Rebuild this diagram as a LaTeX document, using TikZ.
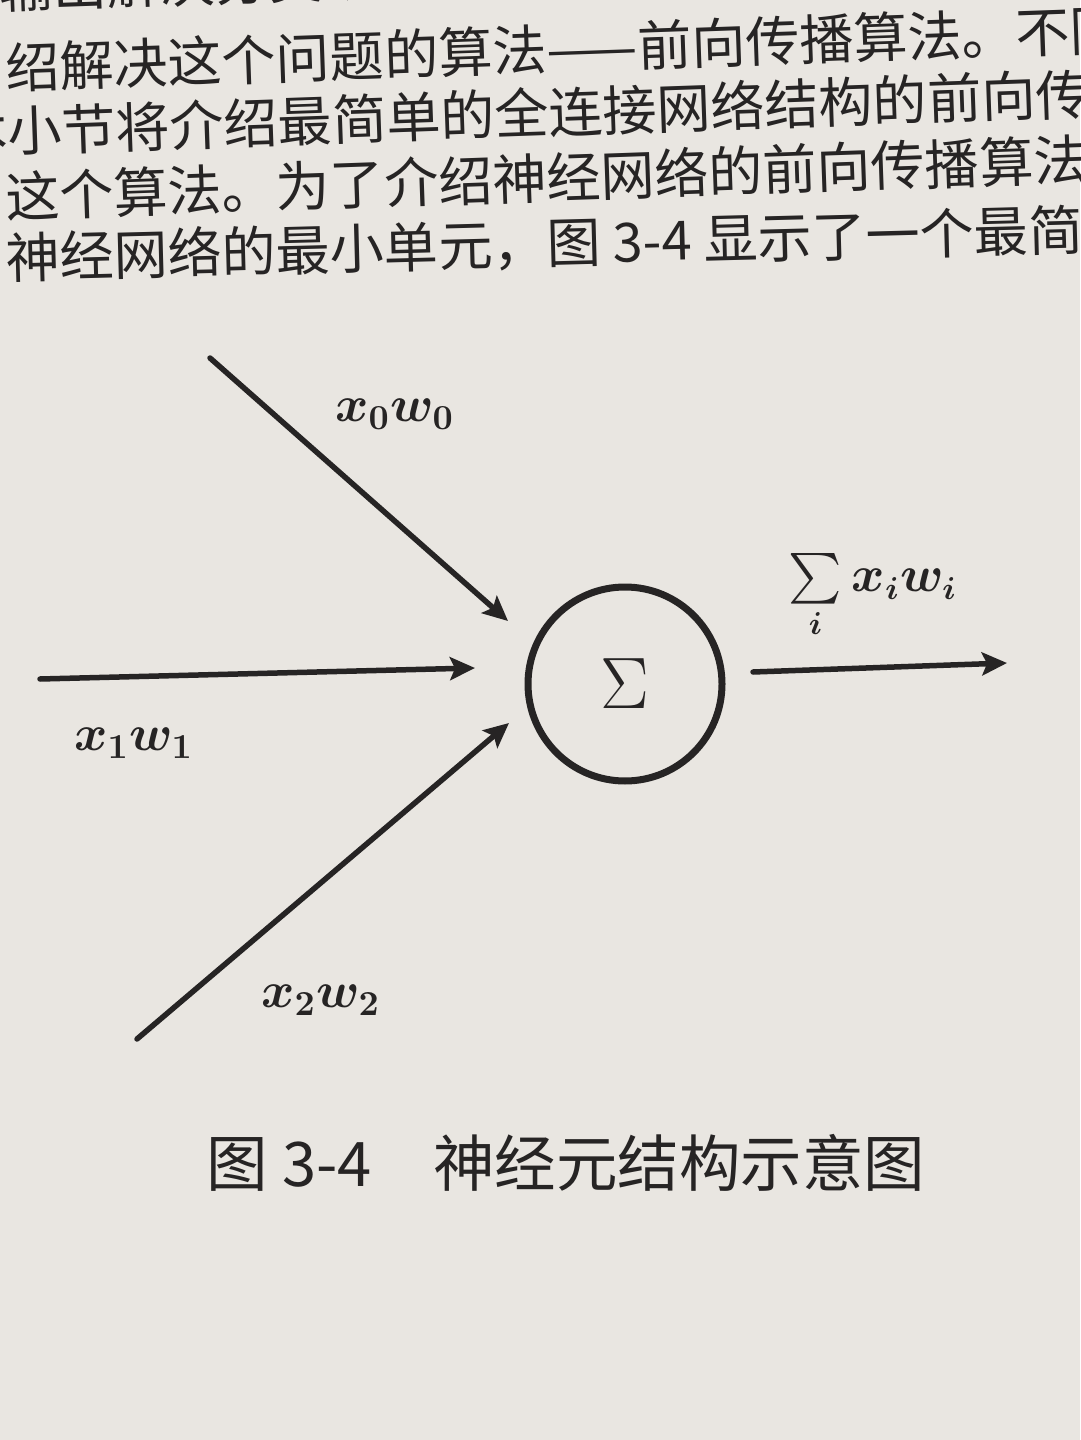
\documentclass[tikz,border=0pt]{standalone}
\usepackage{fontspec}
\usepackage{amsmath}
\newfontfamily\cjk{Noto Sans CJK SC}
\usetikzlibrary{arrows.meta}
\definecolor{paper}{RGB}{233,230,225}
\definecolor{ink}{RGB}{38,36,36}
\begin{document}
\begin{tikzpicture}[
        x=0.1mm, y=-0.1mm,
        row/.style={text=ink, font=\cjk\fontsize{15.4}{18}\selectfont, anchor=west, inner sep=0pt, rotate=2},
        neuron/.style={circle, draw=ink, text=ink, line width=0.7mm, minimum size=19.4mm, inner sep=0pt, font=\fontsize{22}{26}\selectfont},
        weight/.style={text=ink, inner sep=0pt, font=\fontsize{14.5}{17}\selectfont\boldmath},
        signal/.style={draw=ink, line width=0.55mm, line cap=round, -{Stealth[length=2.5mm, width=2.3mm, inset=0.5mm]}}
    ]
    \useasboundingbox[fill=paper] (0,0) rectangle (1080,1440);
    % text of the page above the figure
    \node[row] (row0) at (-2,-12) {输出解决分类或者回归问题。那么神经网络};
    \node[row] (row1) at (5,68) {绍解决这个问题的算法——前向传播算法。不同的};
    \node[row] (row2) at (-47,133) {本小节将介绍最简单的全连接网络结构的前向传播};
    \node[row] (row3) at (5,197) {这个算法。为了介绍神经网络的前向传播算法，};
    \node[row, rotate=-0.5] (row4) at (5,258) {神经网络的最小单元，图 3-4 显示了一个最简单};

    % neuron
    \node[neuron] (sum) at (625,684) {$\Sigma$};
    \coordinate (in0) at (210,358);
    \coordinate (in1) at (40,679);
    \coordinate (in2) at (137,1039);
    \coordinate (tip0) at (508,621);
    \coordinate (tip1) at (475,668);
    \coordinate (tip2) at (509,723);
    \coordinate (start) at (753,672);
    \coordinate (out) at (1007,663);
    \draw[signal] (in0) -- (tip0);
    \draw[signal] (in1) -- (tip1);
    \draw[signal] (in2) -- (tip2);
    \draw[signal] (start) -- (out);

    % weights
    \node[weight] (w0) at (395,414) {$x_0w_0$};
    \node[weight] (w1) at (134,743) {$x_1w_1$};
    \node[weight] (w2) at (321,1000) {$x_2w_2$};
    \node[weight, font=\fontsize{13.5}{16}\selectfont\boldmath] (total) at (873,597) {$\sum\limits_i x_iw_i$};

    % caption
    \node[text=ink, font=\cjk\fontsize{17.5}{20}\selectfont, inner sep=0pt] (caption) at (566,1163) {图 3-4\hspace{1em}神经元结构示意图};
\end{tikzpicture}
\end{document}
